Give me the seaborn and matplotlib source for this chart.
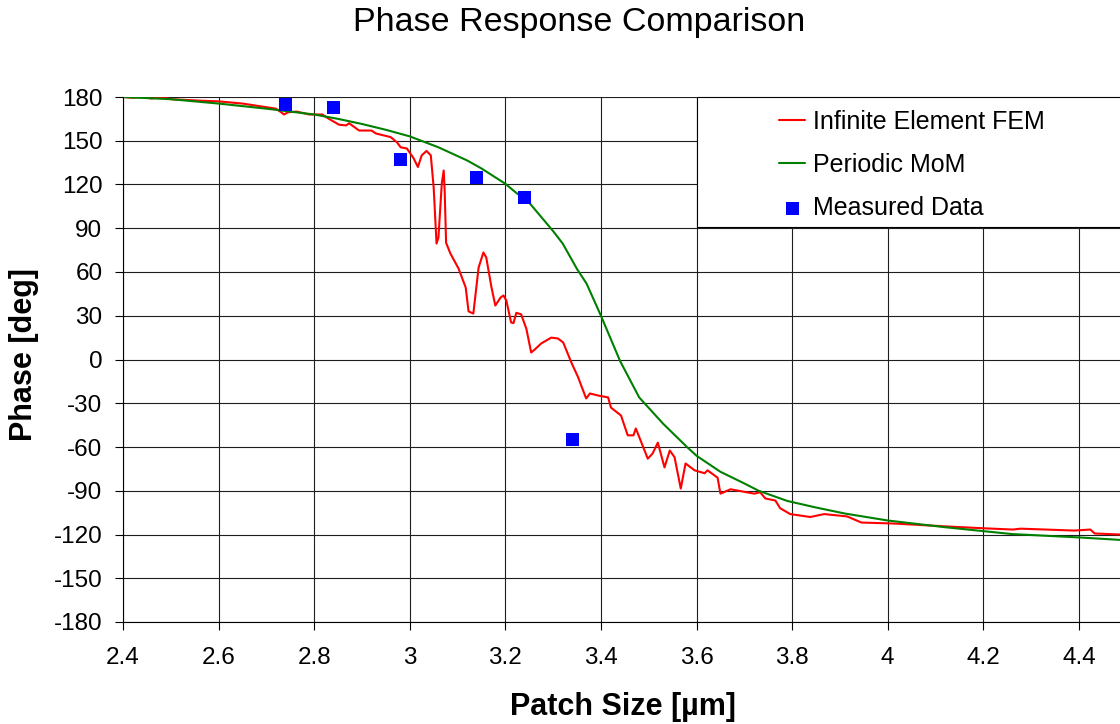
import matplotlib
matplotlib.use("Agg")
import matplotlib.pyplot as plt
import seaborn as sns
from matplotlib.patches import Rectangle

# Infinite element FEM phase response
fem_x = [2.400, 2.420, 2.440, 2.460, 2.480, 2.500, 2.530, 2.560, 2.600, 2.650,
         2.690, 2.720, 2.731, 2.737, 2.745, 2.763, 2.790, 2.817, 2.831, 2.852,
         2.867, 2.873, 2.894, 2.920, 2.929, 2.960, 2.973, 2.981, 2.994, 3.008,
         3.017, 3.025, 3.035, 3.044, 3.050, 3.056, 3.060, 3.067, 3.071, 3.073,
         3.076, 3.085, 3.102, 3.117, 3.123, 3.133, 3.144, 3.154, 3.160, 3.171,
         3.179, 3.190, 3.196, 3.202, 3.212, 3.217, 3.223, 3.233, 3.244, 3.254,
         3.262, 3.275, 3.296, 3.310, 3.321, 3.338, 3.352, 3.369, 3.377, 3.394,
         3.415, 3.421, 3.442, 3.456, 3.468, 3.473, 3.498, 3.508, 3.519, 3.533,
         3.544, 3.554, 3.567, 3.577, 3.596, 3.617, 3.623, 3.644, 3.650, 3.671,
         3.721, 3.733, 3.744, 3.765, 3.775, 3.796, 3.838, 3.867, 3.915, 3.945,
         4.015, 4.124, 4.205, 4.262, 4.278, 4.390, 4.424, 4.433, 4.486]
fem_y = [180.0, 179.5, 180.0, 179.0, 180.0, 178.5, 178.0, 177.5, 177.0, 175.5,
         173.5, 172.0, 169.5, 168.0, 169.5, 170.0, 168.0, 168.0, 165.0, 161.0,
         160.5, 162.0, 157.0, 157.0, 155.0, 152.5, 149.0, 145.5, 144.7, 138.0,
         132.0, 140.0, 143.0, 140.0, 118.0, 79.5, 83.6, 120.7, 129.6, 116.0,
         80.0, 72.7, 62.4, 49.4, 33.0, 31.5, 63.0, 73.4, 70.0, 49.4,
         37.0, 42.5, 43.9, 40.5, 25.4, 25.0, 32.0, 31.0, 21.0, 4.8,
         7.0, 11.0, 15.0, 14.4, 11.7, -2.0, -12.0, -26.7, -23.3, -24.7,
         -26.0, -33.0, -38.4, -52.0, -52.0, -47.3, -68.0, -64.5, -57.0, -74.0,
         -62.4, -67.0, -88.5, -71.3, -76.0, -78.0, -76.0, -81.0, -92.0, -89.0,
         -92.0, -91.0, -95.3, -96.7, -102.0, -106.0, -108.0, -106.0, -107.6, -111.8,
         -112.5, -114.5, -115.8, -116.6, -116.0, -117.3, -116.6, -119.3, -120.0]

# Periodic MoM phase response
mom_x = [2.40, 2.50, 2.60, 2.70, 2.80, 2.85, 2.90, 2.95, 3.00, 3.06,
         3.12, 3.15, 3.20, 3.22, 3.25, 3.30, 3.32, 3.35, 3.37, 3.40,
         3.44, 3.48, 3.53, 3.58, 3.60, 3.65, 3.70, 3.73, 3.79, 3.85,
         3.91, 4.00, 4.12, 4.26, 4.40, 4.486]
mom_y = [180.0, 178.5, 175.5, 172.0, 168.0, 165.0, 161.5, 157.5, 153.0, 145.5,
         136.5, 131.0, 120.5, 115.0, 107.5, 88.0, 79.5, 62.0, 52.0, 30.0,
         -1.0, -26.0, -44.0, -60.0, -66.0, -77.0, -85.0, -90.0, -97.0, -101.5,
         -105.6, -110.4, -115.0, -119.7, -122.0, -123.7]

# Measured phase
meas_x = [2.74, 2.84, 2.98, 3.14, 3.24, 3.34]
meas_y = [175, 173, 137, 125, 111, -55]

x_ticks = [2.4, 2.6, 2.8, 3.0, 3.2, 3.4, 3.6, 3.8, 4.0, 4.2, 4.4]
x_tick_labels = ["2.4", "2.6", "2.8", "3", "3.2", "3.4", "3.6", "3.8", "4", "4.2", "4.4"]
y_ticks = list(range(-180, 181, 30))

sns.set_style("white")
plt.rcParams['font.family'] = ['Liberation Sans', 'DejaVu Sans']
plt.rcParams['axes.unicode_minus'] = False
plt.rcParams['text.color'] = 'black'
plt.rcParams['axes.labelcolor'] = 'black'
plt.rcParams['xtick.color'] = 'black'
plt.rcParams['ytick.color'] = 'black'

W, H = 1120, 724
fig = plt.figure(figsize=(W / 100, H / 100), dpi=100)
ax = fig.add_axes([123 / W, 1 - 622 / H, 997 / W, 525 / H])

sns.lineplot(x=fem_x, y=fem_y, ax=ax, color='#FF0000', linewidth=1.5,
             sort=False, estimator=None, label='Infinite Element FEM')
sns.lineplot(x=mom_x, y=mom_y, ax=ax, color='#008000', linewidth=1.5,
             sort=False, estimator=None, label='Periodic MoM')
sns.scatterplot(x=meas_x, y=meas_y, ax=ax, marker='s', s=88, color='#0000FF',
                edgecolor='none', label='Measured Data', zorder=5)

ax.set_xlim(2.4, 4.486)
ax.set_ylim(-180, 180)
ax.set_xticks(x_ticks)
ax.set_xticklabels(x_tick_labels)
ax.set_yticks(y_ticks)

ax.grid(True, color='#1e1e1e', linewidth=0.8)
ax.set_axisbelow(True)
ax.tick_params(axis='both', which='both', direction='out', length=5.8, width=0.8,
               colors='black', labelcolor='black', labelsize=17.5,
               bottom=True, left=True)
ax.tick_params(axis='y', pad=9)
ax.tick_params(axis='x', pad=12)

for side in ['top', 'right']:
    ax.spines[side].set_visible(False)
for side in ['left', 'bottom']:
    ax.spines[side].set_color('black')
    ax.spines[side].set_linewidth(0.8)

# Legend panel in the upper right corner
x0 = (697 - 123) / 997
y0 = (622 - 227) / 525
ax.add_patch(Rectangle((x0, y0), 0.6, 1 - y0, transform=ax.transAxes,
                       facecolor='white', edgecolor='black', linewidth=0.8,
                       zorder=4, clip_on=False))
leg = ax.legend(loc='upper left', bbox_to_anchor=((779 - 123) / 997, (622 - 110) / 525),
                frameon=False, fontsize=18, handlelength=1.05, handletextpad=0.3,
                labelspacing=0.76, borderaxespad=0, borderpad=0, markerscale=1.0)
leg.set_zorder(6)
for t in leg.get_texts():
    t.set_color('black')

ax.set_xlabel('Patch Size [µm]', fontsize=22, fontweight='bold', va='center',
              color='black')
ax.xaxis.set_label_coords(623 / W, 1 - 707 / H, transform=fig.transFigure)
ax.set_ylabel('Phase [deg]', fontsize=22, fontweight='bold', va='center', ha='center',
              color='black')
ax.yaxis.set_label_coords(24.5 / W, 1 - 354.5 / H, transform=fig.transFigure)

fig.text(579 / W, 1 - 22 / H, 'Phase Response Comparison', fontsize=24.5,
         ha='center', va='center', color='black')

fig.savefig('out.png', dpi=100)
